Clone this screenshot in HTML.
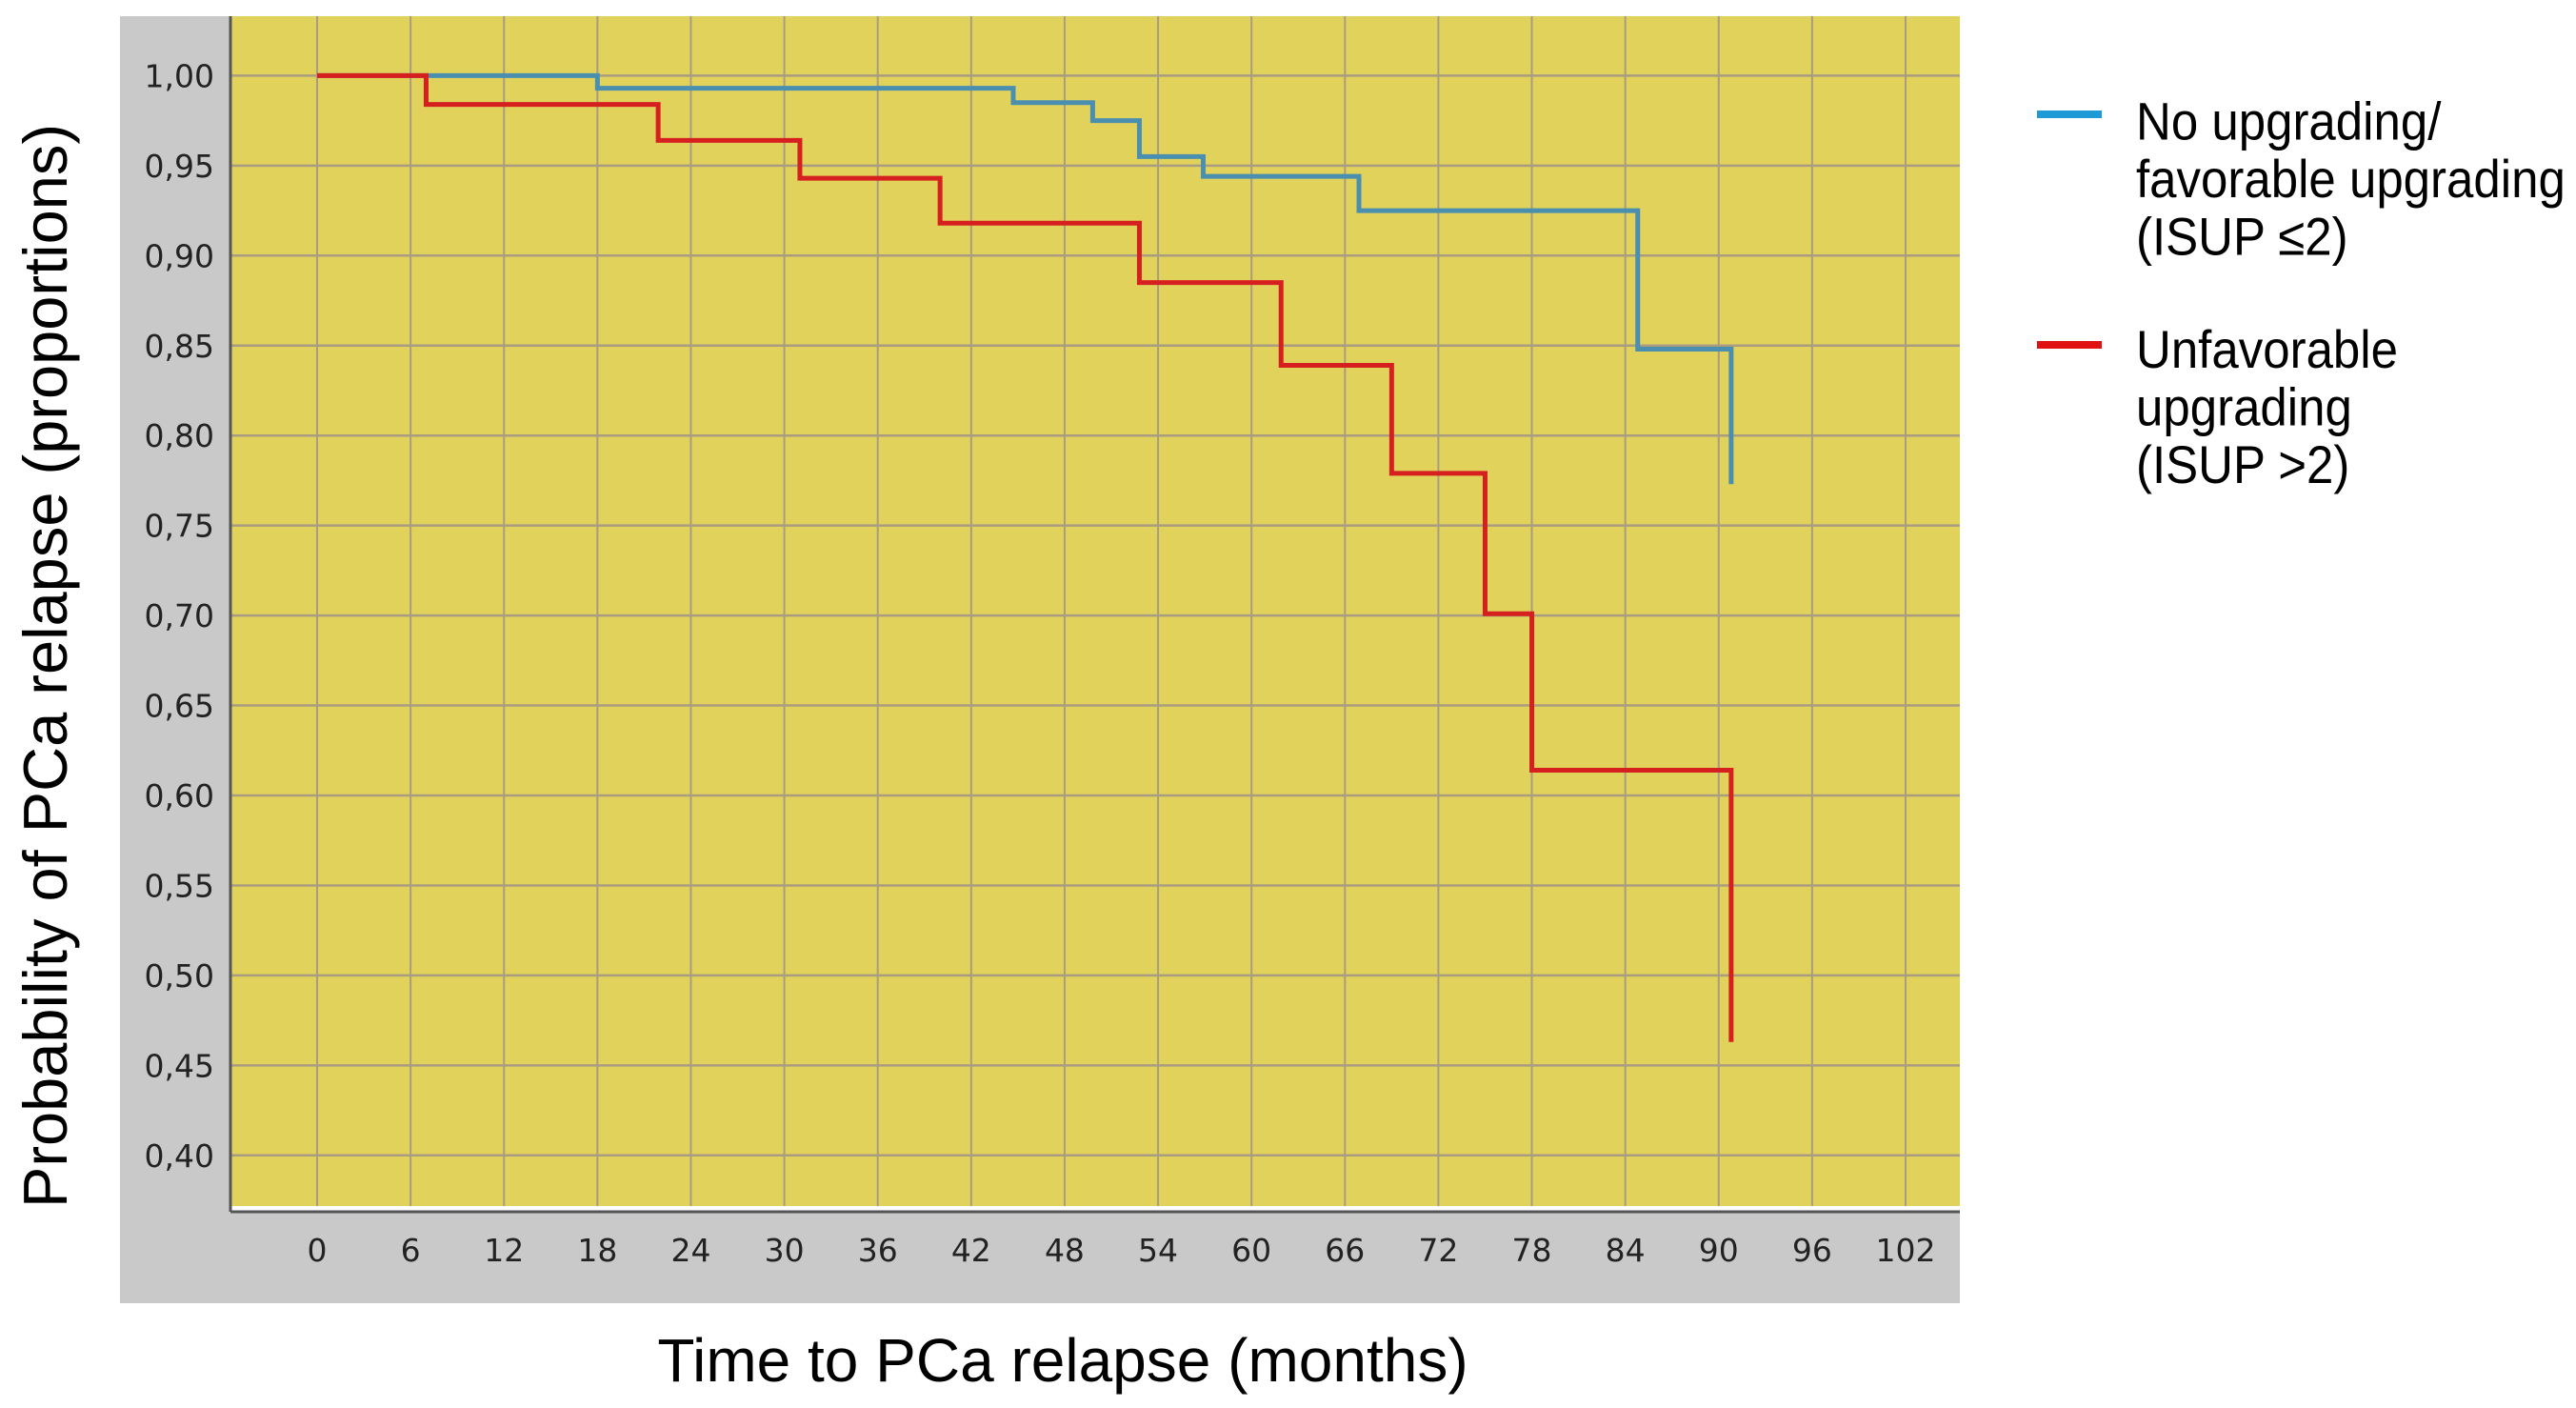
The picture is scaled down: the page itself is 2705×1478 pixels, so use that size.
<!DOCTYPE html>
<html><head><meta charset="utf-8"><style>
html,body{margin:0;padding:0;background:#fff;}
svg{display:block;}
</style></head><body>
<svg id="chart" width="2705" height="1478" xmlns="http://www.w3.org/2000/svg">
<rect x="126" y="17" width="1932" height="1351" fill="#c9c9c9"/>
<rect x="242" y="17" width="1816" height="1251" fill="#e1d25b"/>
<g id="grid"></g>
<rect x="242" y="1266" width="1816" height="5" fill="#ffffff"/>
<line x1="242" y1="1272" x2="2058" y2="1272" stroke="#555" stroke-width="3"/>
<line x1="242" y1="17" x2="242" y2="1272" stroke="#555" stroke-width="3"/>
<g id="ticks"></g>
<g id="series"></g>
<text x="1116" y="1450" text-anchor="middle" font-family="Liberation Sans, sans-serif" font-size="64">Time to PCa relapse (months)</text>
<text transform="translate(70,699) rotate(-90)" text-anchor="middle" font-family="Liberation Sans, sans-serif" font-size="65">Probability of PCa relapse (proportions)</text>
<g>
<line x1="2139" y1="120" x2="2207" y2="120" stroke="#1e9ad6" stroke-width="8"/>
<text font-family="Liberation Sans, sans-serif" font-size="51" fill="#000" transform="translate(0,-14) scale(1,1.1)">
<tspan x="2243" y="146">No upgrading/</tspan><tspan x="2243" y="201">favorable upgrading</tspan><tspan x="2243" y="256">(ISUP ≤2)</tspan></text>
<line x1="2139" y1="362" x2="2207" y2="362" stroke="#e01212" stroke-width="8"/>
<text font-family="Liberation Sans, sans-serif" font-size="51" fill="#000" transform="translate(0,-41) scale(1,1.1)">
<tspan x="2243" y="388">Unfavorable</tspan><tspan x="2243" y="443">upgrading</tspan><tspan x="2243" y="498">(ISUP &gt;2)</tspan></text>
</g>
</svg>
<script>
const xTicks = [0,6,12,18,24,30,36,42,48,54,60,66,72,78,84,90,96,102];
const yTicks = [1.00,0.95,0.90,0.85,0.80,0.75,0.70,0.65,0.60,0.55,0.50,0.45,0.40];
const blueTimes = [0,18,44.7,49.8,52.8,56.9,66.9,84.8,90.8];
const blueSurv = [1.00,0.993,0.985,0.975,0.955,0.944,0.925,0.848,0.773];
const redTimes = [0,7,21.9,31,40,52.8,61.9,69,75,78,90.8];
const redSurv = [1.00,0.984,0.964,0.943,0.918,0.885,0.839,0.779,0.701,0.614,0.463];

const NS = 'http://www.w3.org/2000/svg';
function xs(t){ return 333 + (t/102)*(2001-333); }
function ys(v){ return 79.4 + (1.0 - v)/0.6*(1212.8-79.4); }
function mk(tag, attrs, parent){
  const el = document.createElementNS(NS, tag);
  for (const k in attrs) el.setAttribute(k, attrs[k]);
  parent.appendChild(el);
  return el;
}
const grid = document.getElementById('grid');
const ticks = document.getElementById('ticks');
xTicks.forEach(t => {
  const l = mk('line', {x1:xs(t), y1:17, x2:xs(t), y2:1266, stroke:'#a99c80', 'stroke-width':2}, grid);
  
  
  const tx = mk('text', {x:xs(t), y:1324, 'text-anchor':'middle', 'font-family':'DejaVu Sans, sans-serif', 'font-size':33, fill:'#222'}, ticks);
  tx.textContent = String(t);
  
  
});
yTicks.forEach(v => {
  const l = mk('line', {x1:242, y1:ys(v), x2:2058, y2:ys(v), stroke:'#a99c80', 'stroke-width':2.5}, grid);
  
  
  const tx = mk('text', {x:225, y:ys(v)+12, 'text-anchor':'end', 'font-family':'DejaVu Sans, sans-serif', 'font-size':33, fill:'#222'}, ticks);
  tx.textContent = v.toFixed(2).replace('.', ',');
  
  
});
function stepPath(times, surv){
  let d = 'M' + xs(times[0]) + ' ' + ys(surv[0]);
  for (let i = 1; i < times.length; i++){
    d += ' H' + xs(times[i]) + ' V' + ys(surv[i]);
  }
  return d;
}
const series = document.getElementById('series');
const pb = mk('path', {d:stepPath(blueTimes, blueSurv), fill:'none', stroke:'#4a8fb0', 'stroke-width':5}, series);


const pr = mk('path', {d:stepPath(redTimes, redSurv), fill:'none', stroke:'#d62020', 'stroke-width':5}, series);


</script>
</body></html>
